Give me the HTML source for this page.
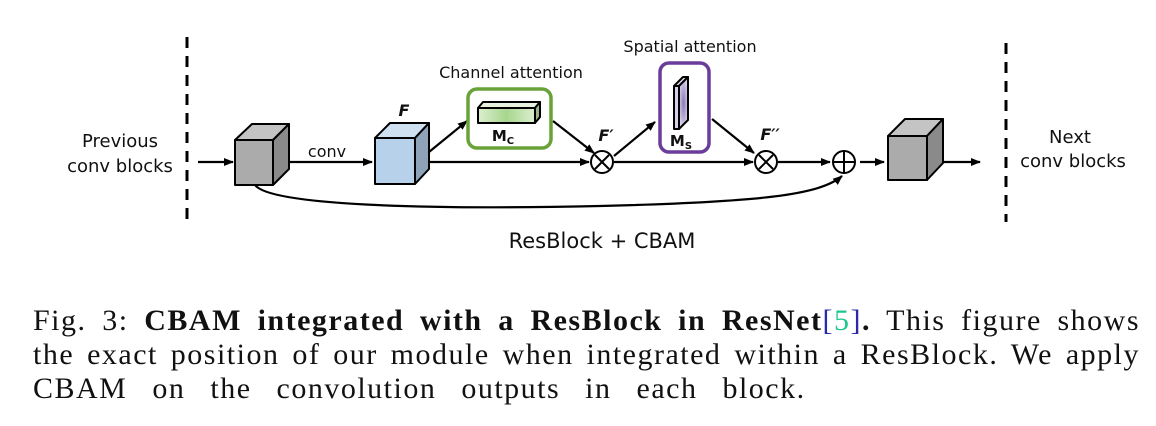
<!DOCTYPE html>
<html><head><meta charset="utf-8"><style>
body{margin:0;background:#fff;width:1156px;height:426px;overflow:hidden;position:relative}
.cap{position:absolute;left:33px;width:1107px;font-family:"Liberation Serif",serif;font-size:30px;color:#111;white-space:nowrap;line-height:34px}
.j{text-align:justify;text-align-last:justify;white-space:normal;letter-spacing:1.5px}
</style></head><body>
<svg width="1156" height="300" style="position:absolute;left:0;top:0" font-family="DejaVu Sans, Liberation Sans, sans-serif">
<defs>
<marker id="a" markerWidth="10" markerHeight="10" refX="9" refY="5" orient="auto" markerUnits="userSpaceOnUse"><path d="M0,1 L10,5 L0,9 z" fill="#000"/></marker>
<linearGradient id="g" x1="0" x2="1"><stop offset="0" stop-color="#dcefd0"/><stop offset="0.5" stop-color="#a8d68e"/><stop offset="1" stop-color="#dcefd0"/></linearGradient>
<radialGradient id="p"><stop offset="0" stop-color="#8a78b8"/><stop offset="1" stop-color="#d8d0ea"/></radialGradient>
</defs>
<g stroke="#000" stroke-width="3" stroke-dasharray="11,8"><line x1="187" y1="37" x2="187" y2="222"/><line x1="1006" y1="43" x2="1006" y2="222"/></g>
<g font-size="18" text-anchor="middle" fill="#111">
<text x="120" y="147">Previous</text><text x="120" y="172">conv blocks</text>
<text x="1070" y="143">Next</text><text x="1073" y="167">conv blocks</text>
<text x="327" y="157" font-size="16">conv</text>
<text x="511" y="78" font-size="16">Channel attention</text>
<text x="690" y="52" font-size="16">Spatial attention</text>
<text x="602" y="248" font-size="21">ResBlock + CBAM</text>
<text x="404" y="116" font-size="16" font-weight="bold" font-style="italic">F</text>
<text x="606" y="141" font-size="16" font-weight="bold" font-style="italic">F′</text>
<text x="770" y="140" font-size="16" font-weight="bold" font-style="italic">F′′</text>
<text x="503" y="141" font-size="15" font-weight="bold">M<tspan font-size="10" dy="3">C</tspan></text>
<text x="681" y="146" font-size="15" font-weight="bold">M<tspan font-size="10" dy="3">S</tspan></text>
</g>
<g stroke="#000" stroke-width="2.2" fill="none">
<line x1="198" y1="162" x2="233" y2="162" marker-end="url(#a)"/>
<line x1="276" y1="162" x2="372" y2="162" marker-end="url(#a)"/>
<line x1="428" y1="162" x2="589" y2="162" marker-end="url(#a)"/>
<line x1="429" y1="152" x2="467" y2="121" marker-end="url(#a)"/>
<line x1="553" y1="121" x2="594" y2="153" marker-end="url(#a)"/>
<line x1="614" y1="156" x2="655" y2="122" marker-end="url(#a)"/>
<line x1="712" y1="119" x2="754" y2="153" marker-end="url(#a)"/>
<line x1="614" y1="162" x2="753" y2="162" marker-end="url(#a)"/>
<line x1="778" y1="162" x2="830" y2="162" marker-end="url(#a)"/>
<line x1="860" y1="162" x2="884" y2="162" marker-end="url(#a)"/>
<line x1="944" y1="162" x2="980" y2="162" marker-end="url(#a)"/>
<path d="M255,185 C270,205 420,210 600,206 C760,202 820,195 842,176" marker-end="url(#a)"/>
</g>
<g stroke="#000" stroke-width="2" stroke-linejoin="round">
<path d="M235,140 L252,124 L289,124 L273,140 z" fill="#c4c4c4"/><path d="M273,140 L289,124 L289,169 L273,185 z" fill="#8a8a8a"/><rect x="235" y="140" width="38" height="45" fill="#ababab"/>
<path d="M375,138 L390,123 L429,123 L415,138 z" fill="#cfe0f0"/><path d="M415,138 L429,123 L429,169 L415,184 z" fill="#8ea3b8"/><rect x="375" y="138" width="40" height="46" fill="#b8d1ea"/>
<path d="M888,136 L905,119 L943,119 L927,136 z" fill="#c4c4c4"/><path d="M927,136 L943,119 L943,163 L927,180 z" fill="#8a8a8a"/><rect x="888" y="136" width="39" height="44" fill="#ababab"/>
<path d="M478,108 L483,102 L540,102 L535,108 z" fill="#e6f2de"/><path d="M535,108 L540,102 L540,117 L535,123 z" fill="#9bb58a"/><rect x="478" y="108" width="57" height="15" fill="url(#g)"/>
<path d="M674,86 L683,77 L688,77 L679,86 z" fill="#e6e0f2"/><path d="M679,86 L688,77 L688,120 L679,129 z" fill="url(#p)"/><rect x="674" y="86" width="5" height="43" fill="#d8d0ea"/>
</g>
<rect x="468" y="89" width="83" height="59" rx="9" fill="none" stroke="#6aa23a" stroke-width="3.5"/>
<rect x="660" y="63" width="49" height="89" rx="9" fill="none" stroke="#6a3d9a" stroke-width="3.5"/>
<g stroke="#000" stroke-width="2" fill="#fff">
<circle cx="602" cy="162" r="11"/><path d="M595,155 L609,169 M609,155 L595,169"/>
<circle cx="766" cy="162" r="11"/><path d="M759,155 L773,169 M773,155 L759,169"/>
<circle cx="844" cy="162" r="11"/><path d="M844,152 L844,172 M834,162 L854,162"/>
</g>
</svg>
<div class="cap j" style="top:304px">Fig. 3: <b>CBAM integrated with a ResBlock in ResNet</b><span style="color:#2a2aa8">[</span><span style="color:#1ec88c">5</span><span style="color:#2a2aa8">]</span><b>.</b> This figure shows</div>
<div class="cap j" style="top:338px">the exact position of our module when integrated within a ResBlock. We apply</div>
<div class="cap" style="top:372px;letter-spacing:1.5px;word-spacing:16px">CBAM on the convolution outputs in each block.</div>
</body></html>
